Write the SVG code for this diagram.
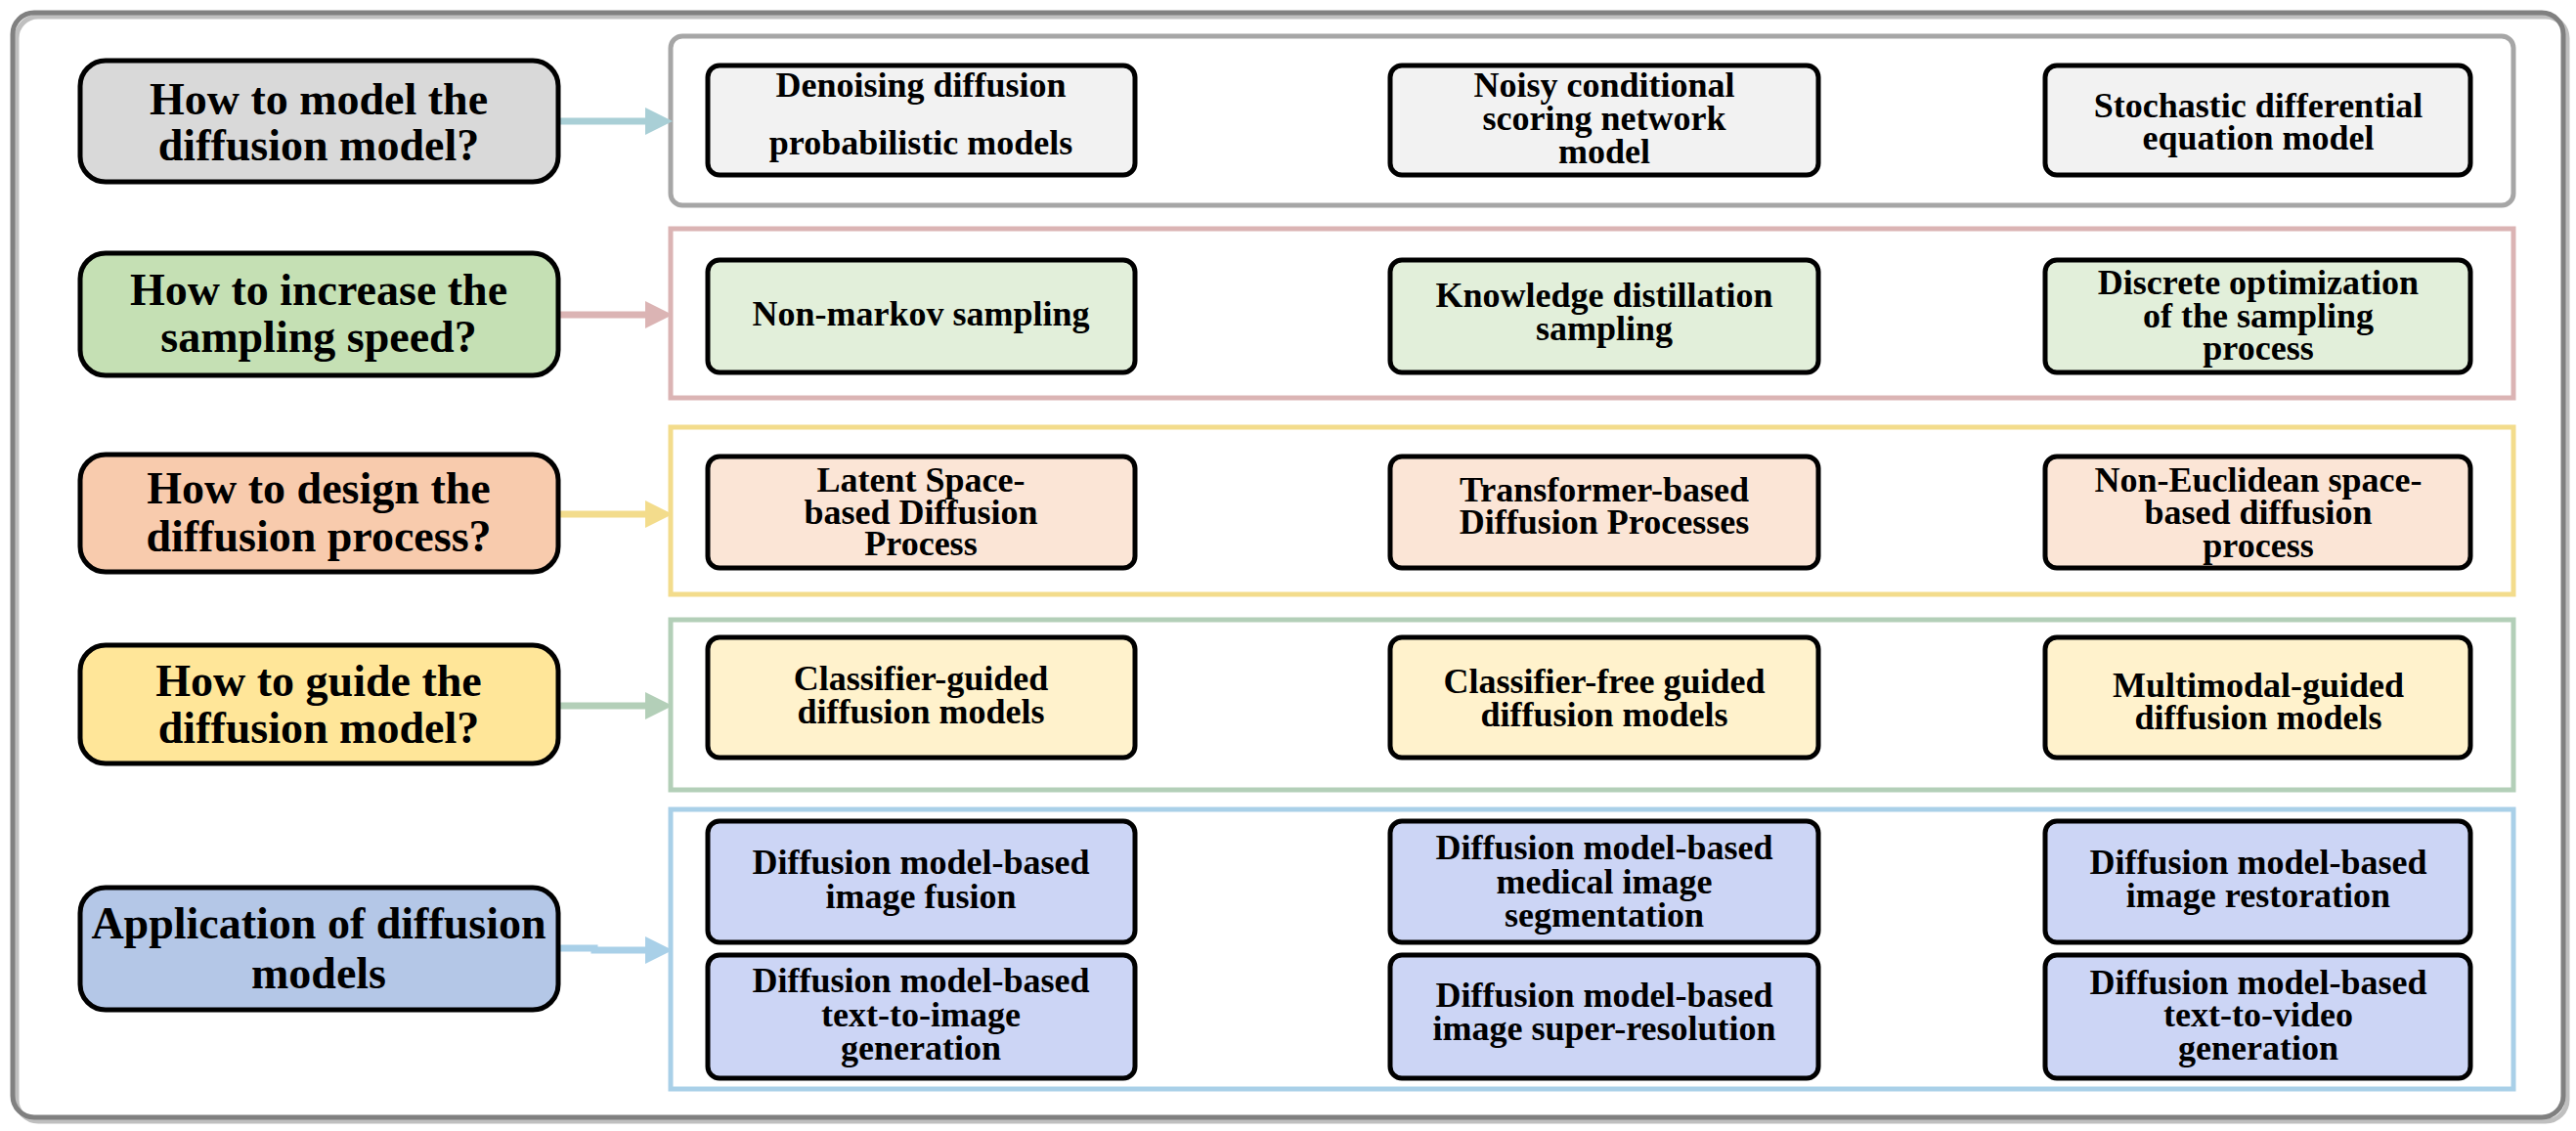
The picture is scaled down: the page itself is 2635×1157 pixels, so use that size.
<svg xmlns="http://www.w3.org/2000/svg" width="2635" height="1157" viewBox="0 0 2635 1157">
<style>
text{font-family:"Liberation Serif","Times New Roman",serif;font-weight:bold;fill:#000;text-anchor:middle;dominant-baseline:central}
.l{font-size:46px}
.c{font-size:36px}
.n{stroke:#000;stroke-width:5}
.g{fill:none;stroke-width:5}
.a{stroke-width:7;fill:none}
</style>
<rect width="2635" height="1157" fill="#fff"/>
<rect x="17" y="17" width="2609" height="1130" rx="22" fill="none" stroke="#bfbfbf" stroke-width="5"/>
<rect x="13" y="13" width="2609" height="1130" rx="22" fill="none" stroke="#808080" stroke-width="5"/>
<g id="groups">
<rect class="g" x="686" y="37" width="1885" height="173" rx="12" stroke="#a6a6a6"/>
<rect class="g" x="686" y="234" width="1885" height="173" stroke="#dbb4b4"/>
<rect class="g" x="686" y="437" width="1885" height="171" stroke="#f3dc8c"/>
<rect class="g" x="686" y="634" width="1885" height="174" stroke="#b3cfb8"/>
<rect class="g" x="686" y="828" width="1885" height="286" stroke="#a9d0e8"/>
</g>
<g id="connectors">
<line class="a" x1="571" y1="124" x2="662" y2="124" stroke="#a9cfd6"/><polygon points="660,110 688,124 660,138" fill="#a9cfd6"/>
<line class="a" x1="571" y1="322" x2="662" y2="322" stroke="#dbb4b4"/><polygon points="660,308 688,322 660,336" fill="#dbb4b4"/>
<line class="a" x1="571" y1="526" x2="662" y2="526" stroke="#f3dc8c"/><polygon points="660,512 688,526 660,540" fill="#f3dc8c"/>
<line class="a" x1="571" y1="722" x2="662" y2="722" stroke="#b3cfb8"/><polygon points="660,708 688,722 660,736" fill="#b3cfb8"/>
<polyline class="a" points="571,970 608,970 608,972 662,972" stroke="#a9d0e8"/><polygon points="660,958 688,972 660,986" fill="#a9d0e8"/>
</g>
<g id="left1"><rect class="n" x="82" y="62" width="489" height="124" rx="26" fill="#d9d9d9"/><text class="l" x="326" y="101">How to model the</text><text class="l" x="326" y="148">diffusion model?</text></g>
<g id="left2"><rect class="n" x="82" y="259" width="489" height="125" rx="26" fill="#c5e0b4"/><text class="l" x="326" y="296">How to increase the</text><text class="l" x="326" y="344">sampling speed?</text></g>
<g id="left3"><rect class="n" x="82" y="465" width="489" height="120" rx="26" fill="#f8cbad"/><text class="l" x="326" y="499">How to design the</text><text class="l" x="326" y="548">diffusion process?</text></g>
<g id="left4"><rect class="n" x="82" y="660" width="489" height="121" rx="26" fill="#ffe699"/><text class="l" x="326" y="696">How to guide the</text><text class="l" x="326" y="744">diffusion model?</text></g>
<g id="left5"><rect class="n" x="82" y="908" width="489" height="125" rx="26" fill="#b4c7e7"/><text class="l" x="326" y="944">Application of diffusion</text><text class="l" x="326" y="995">models</text></g>

<g id="c11"><rect class="n" x="724" y="67" width="437" height="112" rx="12" fill="#f2f2f2"/><text class="c" x="942" y="87">Denoising diffusion</text><text class="c" x="942" y="146">probabilistic models</text></g>
<g id="c12"><rect class="n" x="1422" y="67" width="438" height="112" rx="12" fill="#f2f2f2"/><text class="c" x="1641" y="87">Noisy conditional</text><text class="c" x="1641" y="121">scoring network</text><text class="c" x="1641" y="155">model</text></g>
<g id="c13"><rect class="n" x="2092" y="67" width="435" height="112" rx="12" fill="#f2f2f2"/><text class="c" x="2310" y="108">Stochastic differential</text><text class="c" x="2310" y="141">equation model</text></g>

<g id="c21"><rect class="n" x="724" y="266" width="437" height="115" rx="12" fill="#e2efda"/><text class="c" x="942" y="321">Non-markov sampling</text></g>
<g id="c22"><rect class="n" x="1422" y="266" width="438" height="115" rx="12" fill="#e2efda"/><text class="c" x="1641" y="302">Knowledge distillation</text><text class="c" x="1641" y="336">sampling</text></g>
<g id="c23"><rect class="n" x="2092" y="266" width="435" height="115" rx="12" fill="#e2efda"/><text class="c" x="2310" y="289">Discrete optimization</text><text class="c" x="2310" y="323">of the sampling</text><text class="c" x="2310" y="356">process</text></g>

<g id="c31"><rect class="n" x="724" y="467" width="437" height="114" rx="12" fill="#fbe5d6"/><text class="c" x="942" y="491">Latent Space-</text><text class="c" x="942" y="524">based Diffusion</text><text class="c" x="942" y="556">Process</text></g>
<g id="c32"><rect class="n" x="1422" y="467" width="438" height="114" rx="12" fill="#fbe5d6"/><text class="c" x="1641" y="501">Transformer-based</text><text class="c" x="1641" y="534">Diffusion Processes</text></g>
<g id="c33"><rect class="n" x="2092" y="467" width="435" height="114" rx="12" fill="#fbe5d6"/><text class="c" x="2310" y="491">Non-Euclidean space-</text><text class="c" x="2310" y="524">based diffusion</text><text class="c" x="2310" y="558">process</text></g>

<g id="c41"><rect class="n" x="724" y="652" width="437" height="123" rx="12" fill="#fff2cc"/><text class="c" x="942" y="694">Classifier-guided</text><text class="c" x="942" y="728">diffusion models</text></g>
<g id="c42"><rect class="n" x="1422" y="652" width="438" height="123" rx="12" fill="#fff2cc"/><text class="c" x="1641" y="697">Classifier-free guided</text><text class="c" x="1641" y="731">diffusion models</text></g>
<g id="c43"><rect class="n" x="2092" y="652" width="435" height="123" rx="12" fill="#fff2cc"/><text class="c" x="2310" y="701">Multimodal-guided</text><text class="c" x="2310" y="734">diffusion models</text></g>

<g id="c51"><rect class="n" x="724" y="840" width="437" height="124" rx="12" fill="#ccd5f5"/><text class="c" x="942" y="882">Diffusion model-based</text><text class="c" x="942" y="917">image fusion</text></g>
<g id="c52"><rect class="n" x="1422" y="840" width="438" height="124" rx="12" fill="#ccd5f5"/><text class="c" x="1641" y="867">Diffusion model-based</text><text class="c" x="1641" y="902">medical image</text><text class="c" x="1641" y="936">segmentation</text></g>
<g id="c53"><rect class="n" x="2092" y="840" width="435" height="124" rx="12" fill="#ccd5f5"/><text class="c" x="2310" y="882">Diffusion model-based</text><text class="c" x="2310" y="916">image restoration</text></g>

<g id="c61"><rect class="n" x="724" y="977" width="437" height="126" rx="12" fill="#ccd5f5"/><text class="c" x="942" y="1003">Diffusion model-based</text><text class="c" x="942" y="1038">text-to-image</text><text class="c" x="942" y="1072">generation</text></g>
<g id="c62"><rect class="n" x="1422" y="977" width="438" height="126" rx="12" fill="#ccd5f5"/><text class="c" x="1641" y="1018">Diffusion model-based</text><text class="c" x="1641" y="1052">image super-resolution</text></g>
<g id="c63"><rect class="n" x="2092" y="977" width="435" height="126" rx="12" fill="#ccd5f5"/><text class="c" x="2310" y="1005">Diffusion model-based</text><text class="c" x="2310" y="1038">text-to-video</text><text class="c" x="2310" y="1072">generation</text></g>
</svg>
